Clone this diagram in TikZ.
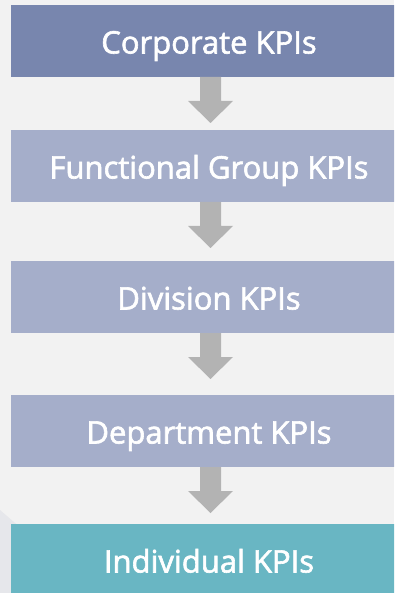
\documentclass[tikz,border=0pt]{standalone}
\usepackage{fontspec}
\setmainfont{Open Sans}
\newfontfamily\kpifont{Open Sans}[BoldFont={Open Sans},BoldFeatures={FakeBold=2}]
\usetikzlibrary{calc}
\definecolor{pagebg}{HTML}{F2F2F2}
\definecolor{sidebg}{HTML}{E6E7EB}
\definecolor{topblue}{HTML}{7886AE}
\definecolor{midblue}{HTML}{A5AECA}
\definecolor{teal}{HTML}{69B6C3}
\definecolor{arrowgray}{HTML}{B3B3B3}
\tikzset{
  kpibox/.style={anchor=north west, minimum width=399pt, minimum height=72pt,
    inner sep=0pt, outer sep=0pt, text=white, align=center,
    font=\kpifont\bfseries\fontsize{31}{35}\selectfont, text height=25pt, text depth=0pt},
}
% block arrow hanging below a box
\newcommand\kpiarrow[1]{%
  \fill[arrowgray] ($(#1.south)+(-10.5,0)$) -- ++(21,0) -- ++(0,24)
    -- ++(12,0) -- ($(#1.south)+(0,46)$) -- ($(#1.south)+(-22.5,24)$)
    -- ++(12,0) -- cycle;}
\begin{document}
\begin{tikzpicture}[x=1pt,y=-1pt]
\useasboundingbox (0,0) rectangle (394,593);
\clip (0,0) rectangle (394,593);
\fill[pagebg] (0,0) rectangle (394,593);
\fill[sidebg] (0,510) -- (22,529) -- (22,593) -- (0,593) -- cycle;
\node[kpibox, fill=topblue] (corp) at (11,5) {\hspace*{-3pt}Corporate KPIs};
\node[kpibox, fill=midblue] (func) at (11,130) {\hspace*{-3pt}Functional Group KPIs};
\node[kpibox, fill=midblue] (div) at (11,261) {\hspace*{-3pt}Division KPIs};
\node[kpibox, fill=midblue] (dept) at (11,395) {\hspace*{-3pt}Department KPIs};
\node[kpibox, fill=teal] (indiv) at (11,524) {\hspace*{-3pt}Individual KPIs};
\kpiarrow{corp}
\kpiarrow{func}
\kpiarrow{div}
\kpiarrow{dept}
\end{tikzpicture}
\end{document}
